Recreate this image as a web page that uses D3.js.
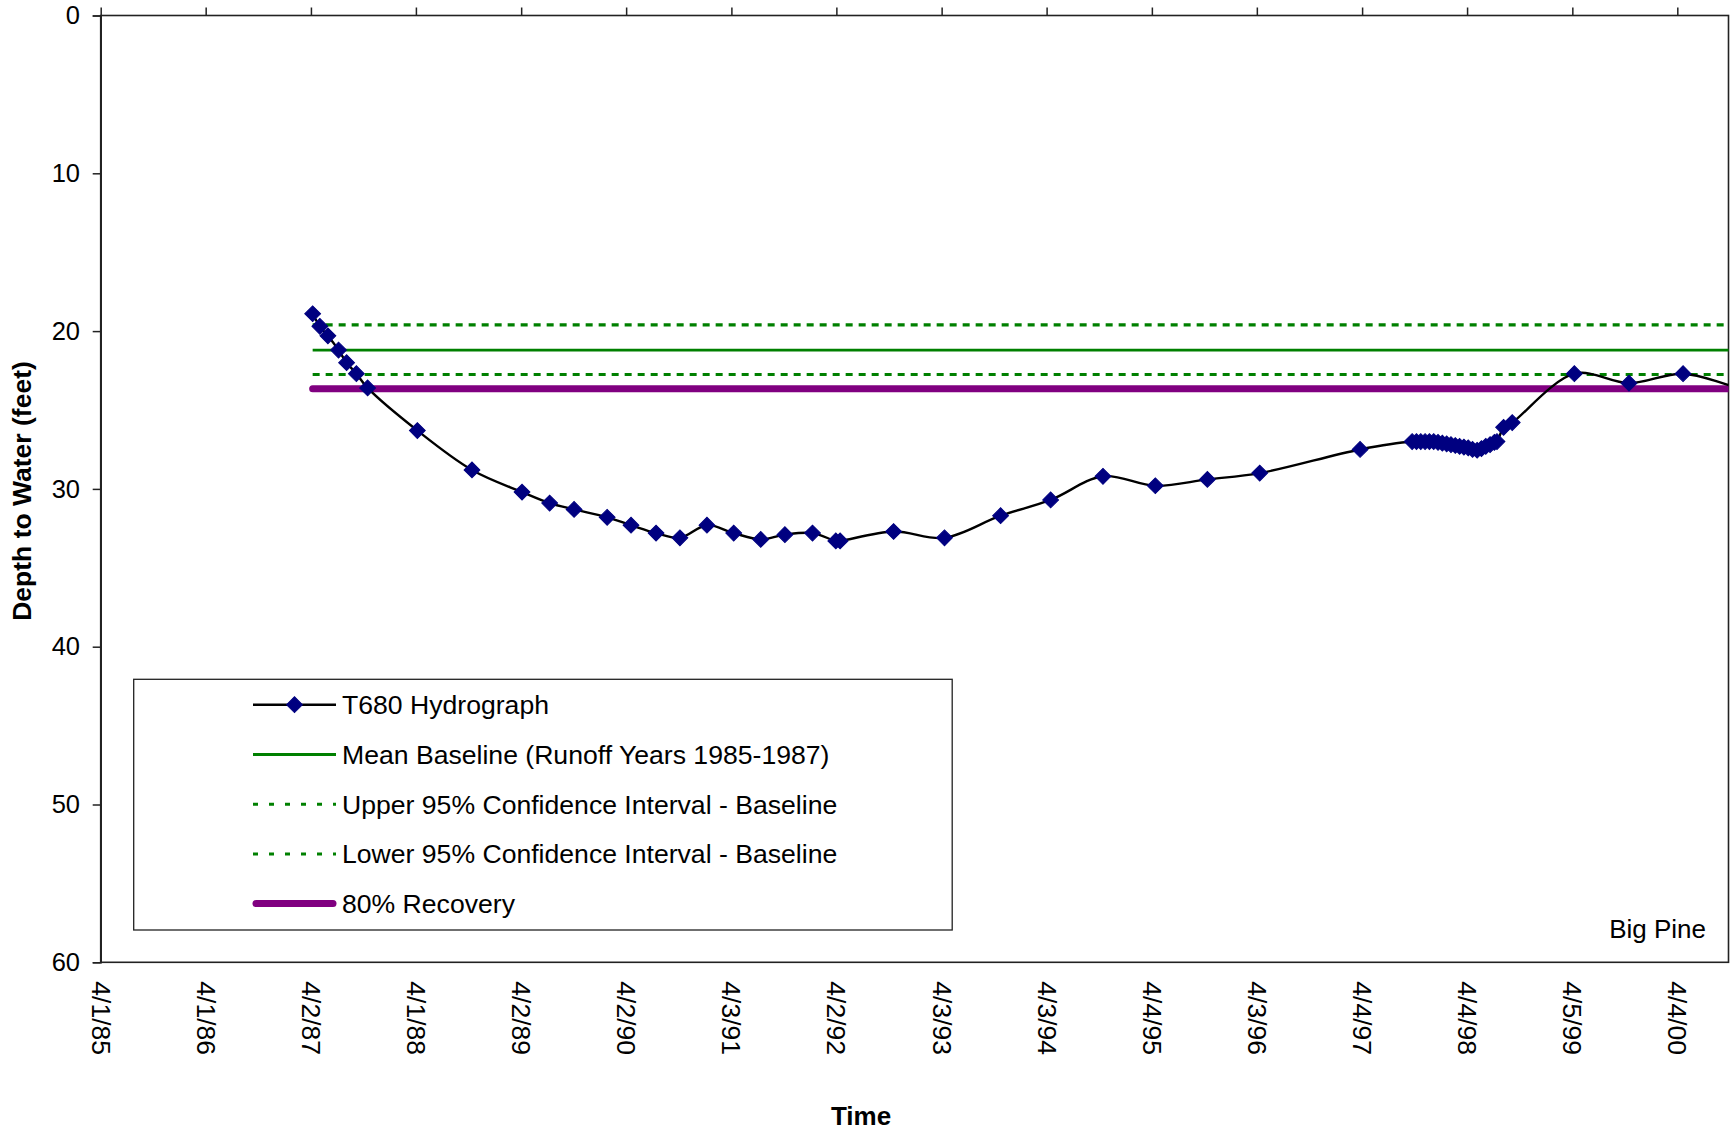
<!DOCTYPE html>
<html>
<head>
<meta charset="utf-8">
<script src="https://cdn.jsdelivr.net/npm/d3@7"></script>
<style>
  html, body { margin: 0; padding: 0; background: #fff; }
  svg { display: block; }
  text { font-family: "Liberation Sans", Arial, Helvetica, sans-serif; fill: #000; }
</style>
</head>
<body>
<svg id="chart" width="1732" height="1131"></svg>
<script>
// ---------------- DATA ----------------
const tickLabels = ["4/1/85","4/1/86","4/2/87","4/1/88","4/2/89","4/2/90","4/3/91","4/2/92",
                    "4/3/93","4/3/94","4/4/95","4/3/96","4/4/97","4/4/98","4/5/99","4/4/00"];
const yTicks = [0, 10, 20, 30, 40, 50, 60];

const hydroDates = [
  "1987-04-08","1987-05-03","1987-05-31","1987-07-07","1987-08-04","1987-09-07","1987-10-16",
  "1988-04-06","1988-10-13","1989-04-05","1989-07-10","1989-10-03","1990-01-26","1990-04-19",
  "1990-07-15","1990-10-06","1991-01-08","1991-04-11","1991-07-14","1991-10-06","1992-01-10",
  "1992-03-31","1992-04-15","1992-10-18","1993-04-13","1993-10-25","1994-04-17","1994-10-16",
  "1995-04-16","1995-10-14","1996-04-13","1997-03-28",
  "1997-09-25","1997-10-10","1997-10-25","1997-11-09","1997-11-24","1997-12-09","1997-12-24",
  "1998-01-08","1998-01-23","1998-02-07","1998-02-22","1998-03-09","1998-03-24","1998-04-08",
  "1998-04-23","1998-05-09","1998-05-24","1998-06-08","1998-06-23","1998-07-08","1998-07-17",
  "1998-08-09","1998-09-08","1999-04-12","1999-10-19","2000-04-24","2000-10-25"
];
const hydroDepth = [
  18.9, 19.7, 20.3, 21.2, 22.0, 22.7, 23.6,
  26.3, 28.8, 30.2, 30.9, 31.3, 31.8, 32.3,
  32.8, 33.1, 32.3, 32.8, 33.2, 32.9, 32.8,
  33.3, 33.3, 32.7, 33.1, 31.7, 30.7, 29.2,
  29.8, 29.4, 29.0, 27.5,
  27.0, 27.0, 27.0, 27.0, 27.0, 27.0, 27.05,
  27.1, 27.15, 27.2, 27.25, 27.3, 27.35, 27.4,
  27.5, 27.55, 27.45, 27.3, 27.2, 27.05, 27.0,
  26.1, 25.8, 22.7, 23.3, 22.7, 23.6
];

const meanBaseline = 21.2;
const upperCI = 19.6;
const lowerCI = 22.75;
const recovery80 = 23.65;

const legendLabels = [
  "T680 Hydrograph",
  "Mean Baseline (Runoff Years 1985-1987)",
  "Upper 95% Confidence Interval - Baseline",
  "Lower 95% Confidence Interval - Baseline",
  "80% Recovery"
];

// ---------------- LAYOUT ----------------
const svg = d3.select("#chart");
const pL = 100.7, pR = 1728.5, pT = 15.5, pB = 962.3;
const parseISO = d3.timeParse("%Y-%m-%d");
const parseTick = d3.timeParse("%m/%d/%y");

const x = d3.scaleTime()
  .domain([new Date(1985, 3, 1), new Date(2000, 8, 29)])
  .range([pL, pR]);
const y = d3.scaleLinear().domain([0, 60]).range([pT, pB]);

const hydro = hydroDates.map((d, i) => ({ date: parseISO(d), depth: hydroDepth[i] }));
const tickDates = tickLabels.map(parseTick);

const GREEN = "#008000", PURPLE = "#800080", NAVY = "#000080";
const DASH = "7,6";

svg.append("defs").append("clipPath").attr("id", "plotclip")
  .append("rect").attr("x", pL).attr("y", pT - 6).attr("width", pR - pL).attr("height", pB - pT + 12);

// plot border
svg.append("rect")
  .attr("x", pL).attr("y", pT).attr("width", pR - pL).attr("height", pB - pT)
  .attr("fill", "none").attr("stroke", "#222").attr("stroke-width", 1.6);

// top ticks (x axis at depth 0)
const topAxis = svg.append("g").attr("transform", `translate(0,${pT})`)
  .call(d3.axisTop(x).tickValues(tickDates).tickSize(8).tickFormat(""));
topAxis.select(".domain").remove();
topAxis.selectAll("line").attr("stroke", "#222").attr("stroke-width", 1.5);

// bottom labels (rotated)
const botAxis = svg.append("g").attr("transform", `translate(0,${pB})`)
  .call(d3.axisBottom(x).tickValues(tickDates).tickSize(0).tickFormat((d, i) => tickLabels[i]));
botAxis.select(".domain").remove();
botAxis.selectAll("text")
  .attr("transform", "translate(0,19) rotate(90)")
  .attr("x", 0).attr("y", 0).attr("dy", "0.36em")
  .attr("text-anchor", "start")
  .style("font-size", "26.5px")
  .style("font-family", "'Liberation Sans', Arial, sans-serif");

// y axis
const yAxis = svg.append("g").attr("transform", `translate(${pL},0)`)
  .call(d3.axisLeft(y).tickValues(yTicks).tickSize(8).tickPadding(12.7));
yAxis.select(".domain").attr("stroke", "#222").attr("stroke-width", 1.6);
yAxis.selectAll("line").attr("stroke", "#222").attr("stroke-width", 1.5);
yAxis.selectAll("text").style("font-size", "25.5px")
  .style("font-family", "'Liberation Sans', Arial, sans-serif");

// ---------------- SERIES ----------------
const plot = svg.append("g").attr("clip-path", "url(#plotclip)");
const startDate = hydro[0].date, endDate = hydro[hydro.length - 1].date;

function hline(val, color, width, dash, cap) {
  plot.append("line")
    .attr("x1", x(startDate)).attr("x2", x(endDate))
    .attr("y1", y(val)).attr("y2", y(val))
    .attr("stroke", color).attr("stroke-width", width)
    .attr("stroke-dasharray", dash || null)
    .attr("stroke-linecap", cap || "butt");
}
hline(upperCI, GREEN, 3.2, DASH);
hline(meanBaseline, GREEN, 2.8);
hline(lowerCI, GREEN, 3.2, DASH);
hline(recovery80, PURPLE, 7, null, "round");

const line = d3.line().x(d => x(d.date)).y(d => y(d.depth)).curve(d3.curveCatmullRom.alpha(0.5));
plot.append("path").datum(hydro)
  .attr("d", line).attr("fill", "none").attr("stroke", "#000").attr("stroke-width", 2.4);

const diamond = d3.symbol().type(d3.symbolSquare).size(125);
plot.selectAll("path.mk").data(hydro.filter(d => d.date <= x.domain()[1])).join("path")
  .attr("class", "mk")
  .attr("d", diamond)
  .attr("transform", d => `translate(${x(d.date)},${y(d.depth)}) rotate(45)`)
  .attr("fill", NAVY).attr("stroke", NAVY).attr("stroke-width", 1);

// ---------------- LEGEND ----------------
const lg = svg.append("g");
lg.append("rect").attr("x", 133.7).attr("y", 679.3).attr("width", 818.5).attr("height", 250.7)
  .attr("fill", "#fff").attr("stroke", "#222").attr("stroke-width", 1.3);
const rowY = [704.7, 754.5, 804.2, 853.9, 903.6];
const sx1 = 253, sx2 = 336;
legendLabels.forEach((lab, i) => {
  const yy = rowY[i];
  const g = lg.append("g");
  if (i === 0) {
    g.append("line").attr("x1", sx1).attr("x2", sx2).attr("y1", yy).attr("y2", yy)
      .attr("stroke", "#000").attr("stroke-width", 2.4);
    g.append("path").attr("d", diamond).attr("transform", `translate(${(sx1 + sx2) / 2},${yy}) rotate(45)`)
      .attr("fill", NAVY).attr("stroke", NAVY);
  } else if (i === 1) {
    g.append("line").attr("x1", sx1).attr("x2", sx2).attr("y1", yy).attr("y2", yy)
      .attr("stroke", GREEN).attr("stroke-width", 2.8);
  } else if (i === 2 || i === 3) {
    g.append("line").attr("x1", sx1).attr("x2", sx2).attr("y1", yy).attr("y2", yy)
      .attr("stroke", GREEN).attr("stroke-width", 3).attr("stroke-dasharray", "5,11");
  } else {
    g.append("line").attr("x1", sx1 + 3).attr("x2", sx2 - 3).attr("y1", yy).attr("y2", yy)
      .attr("stroke", PURPLE).attr("stroke-width", 7).attr("stroke-linecap", "round");
  }
  g.append("text").attr("x", 342).attr("y", yy).attr("dy", "0.36em")
    .style("font-size", "26.6px").text(lab);
});

// ---------------- TITLES ----------------
svg.append("text").attr("x", 861).attr("y", 1125).attr("text-anchor", "middle")
  .style("font-size", "26px").style("font-weight", "bold").text("Time");
svg.append("text").attr("transform", "translate(31,491) rotate(-90)").attr("text-anchor", "middle")
  .style("font-size", "26.5px").style("font-weight", "bold").text("Depth to Water (feet)");
svg.append("text").attr("x", 1706).attr("y", 938).attr("text-anchor", "end")
  .style("font-size", "26px").text("Big Pine");
</script>
</body>
</html>
